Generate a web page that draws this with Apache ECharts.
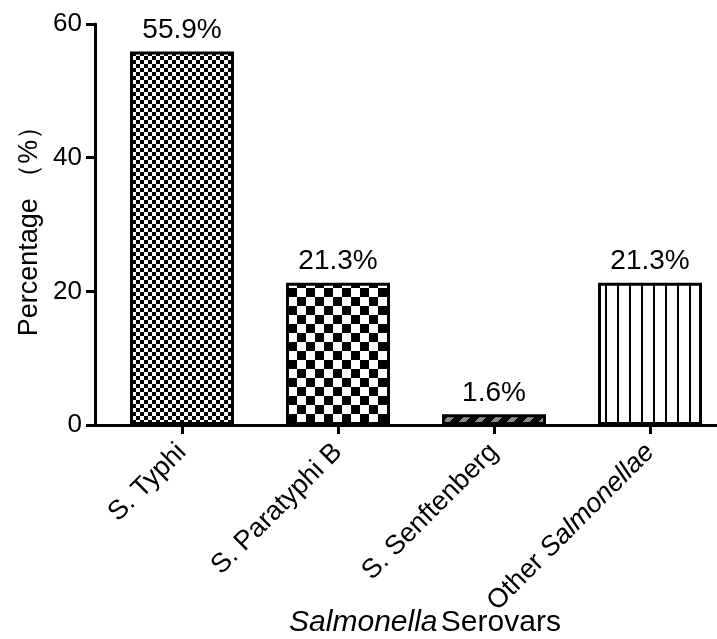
<!DOCTYPE html>
<html>
<head>
<meta charset="utf-8">
<script src="https://cdn.jsdelivr.net/npm/echarts@6/dist/echarts.min.js"></script>
<style>
  html, body { margin: 0; padding: 0; background: #fff; }
  #chart { width: 717px; height: 639px; }
</style>
</head>
<body>
<div id="chart"></div>
<script>
// data
const serovars = ['S. Typhi', 'S. Paratyphi B', 'S. Senftenberg', 'Other Salmonellae']
const percents = [55.9, 21.3, 1.6, 21.3]
const yTicks = [0, 20, 40, 60]

const FONT = 'Liberation Sans, Arial, sans-serif'

// small canvases used as fill patterns for the bars
function makePattern(w, h, draw) {
  const c = document.createElement('canvas')
  c.width = w
  c.height = h
  const ctx = c.getContext('2d')
  draw(ctx, w, h)
  return { image: c, repeat: 'repeat' }
}

const fineChecker = makePattern(8, 8, (ctx) => {
  ctx.fillStyle = '#fff'; ctx.fillRect(0, 0, 8, 8)
  ctx.fillStyle = '#000'; ctx.fillRect(0, 0, 4, 4); ctx.fillRect(4, 4, 4, 4)
})
const bigChecker = makePattern(18, 18, (ctx) => {
  ctx.fillStyle = '#fff'; ctx.fillRect(0, 0, 18, 18)
  ctx.fillStyle = '#000'; ctx.fillRect(0, 0, 9, 9); ctx.fillRect(9, 9, 9, 9)
})
// black with grey "/" stripes
const slantDash = makePattern(16, 16, (ctx) => {
  ctx.fillStyle = '#000'; ctx.fillRect(0, 0, 16, 16)
  ctx.fillStyle = '#8c8c8c'
  for (let y = 0; y < 16; y++) {
    for (let x = 0; x < 16; x++) {
      if ((x + y) % 16 < 7) ctx.fillRect(x, y, 1, 1)
    }
  }
})
const vLines = makePattern(12, 12, (ctx) => {
  ctx.fillStyle = '#fff'; ctx.fillRect(0, 0, 12, 12)
  ctx.fillStyle = '#000'; ctx.fillRect(5, 0, 2, 12)
})
const fills = [fineChecker, bigChecker, slantDash, vLines]

const myChart = echarts.init(document.getElementById('chart'))

const option = {
  backgroundColor: '#fff',
  animation: false,
  grid: [
    // axis frame grid (y axis + x axis line)
    { left: 95, right: 0, top: 24, height: 401, outerBoundsMode: 'none', containLabel: false },
    // bars grid, slightly shifted like the original
    { left: 104, right: -11, top: 24, height: 401, outerBoundsMode: 'none', containLabel: false }
  ],
  xAxis: [
    {
      gridIndex: 0,
      type: 'value',
      min: 0,
      max: 1,
      axisLine: { show: true, lineStyle: { color: '#000', width: 3 } },
      axisTick: { show: false },
      axisLabel: { show: false },
      splitLine: { show: false }
    },
    {
      gridIndex: 1,
      type: 'category',
      data: serovars,
      axisLine: { show: false },
      axisTick: {
        show: true,
        alignWithLabel: true,
        length: 9,
        lineStyle: { color: '#000', width: 3 }
      },
      axisLabel: {
        rotate: 45,
        margin: 23,
        interval: 0,
        fontFamily: FONT,
        fontSize: 27,
        color: '#000',
        formatter: function (v) {
          if (v === 'Other Salmonellae') return '{n|Other }{i|Salmonellae}'
          return v
        },
        rich: {
          n: { fontFamily: FONT, fontSize: 27, color: '#000' },
          i: { fontFamily: FONT, fontSize: 27, color: '#000', fontStyle: 'italic' }
        }
      },
      name: '{i|Salmonella} {n|Serovars}',
      nameLocation: 'middle',
      nameGap: 183,
      nameMoveOverlap: false,
      nameTextStyle: {
        padding: [0, 0, 0, 18],
        rich: {
          i: { fontFamily: FONT, fontSize: 30, color: '#000', fontStyle: 'italic' },
          n: { fontFamily: FONT, fontSize: 30, color: '#000' }
        }
      }
    }
  ],
  yAxis: [
    {
      gridIndex: 0,
      type: 'value',
      min: yTicks[0],
      max: yTicks[yTicks.length - 1],
      interval: yTicks[1] - yTicks[0],
      axisLine: { show: true, lineStyle: { color: '#000', width: 3 } },
      axisTick: { show: true, length: 9, lineStyle: { color: '#000', width: 3 } },
      axisLabel: { fontFamily: FONT, fontSize: 26, color: '#000', margin: 13 },
      splitLine: { show: false },
      name: 'Percentage （%）',
      nameLocation: 'middle',
      nameGap: 52,
      nameMoveOverlap: false,
      nameTextStyle: { fontFamily: FONT, fontSize: 27, color: '#000' }
    },
    {
      gridIndex: 1,
      type: 'value',
      min: yTicks[0],
      max: yTicks[yTicks.length - 1],
      show: false
    }
  ],
  series: [
    {
      type: 'bar',
      xAxisIndex: 1,
      yAxisIndex: 1,
      barWidth: 104,
      data: percents.map((v, i) => ({
        value: v,
        itemStyle: {
          color: fills[i],
          borderColor: '#000',
          borderWidth: 3
        }
      })),
      label: {
        show: true,
        position: 'top',
        distance: 7,
        fontFamily: FONT,
        fontSize: 28,
        color: '#000',
        formatter: (p) => p.value.toFixed(1) + '%'
      }
    }
  ]
}

myChart.setOption(option)
</script>
</body>
</html>
